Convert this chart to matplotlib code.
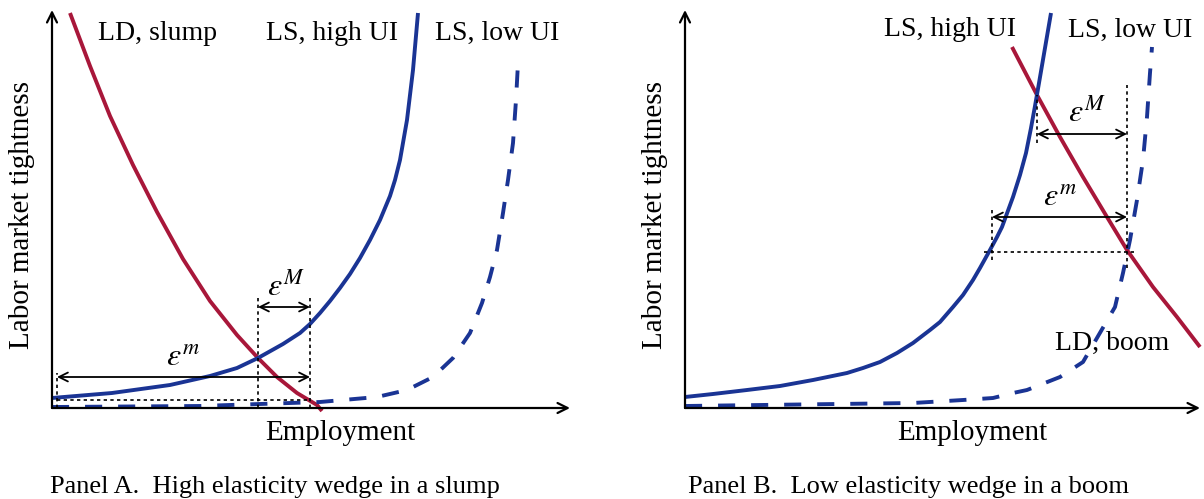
import matplotlib
matplotlib.use("Agg")
import matplotlib.pyplot as plt

plt.rcParams['font.family'] = ['Liberation Serif', 'DejaVu Serif']
plt.rcParams['mathtext.fontset'] = 'stix'

# couleurs
ROUGE = "#a8173a"
BLEU = "#1a3494"

# ---- Panel A : slump (unites arbitraires, origine = coin des axes) ----
a_ld_x = [18, 38, 58, 81, 105, 131, 158, 185, 206, 225, 245, 265, 270]
a_ld_y = [395, 342, 292, 243, 196, 149, 107, 73, 50, 31, 15, 3, -3]

a_hi_x = [0, 60, 118, 158, 185, 206, 231, 248, 258, 268, 278, 288, 298, 308,
          318, 328, 338, 343, 348, 355, 361, 366]
a_hi_y = [10, 15, 23, 32, 40, 50, 64, 75, 84, 95, 107, 120, 134, 150,
          168, 188, 212, 228, 248, 288, 338, 395]

a_lo_x = [0, 148, 268, 291, 325, 355, 381, 401, 418, 430, 438, 445, 451, 456, 461, 464, 466]
a_lo_y = [1, 2, 6, 8, 11, 18, 31, 50, 75, 105, 131, 158, 195, 228, 265, 308, 345]

# ---- Panel B : boom ----
b_ld_x = [327, 352, 375, 398, 422, 442, 468, 492, 515]
b_ld_y = [361, 313, 271, 231, 191, 158, 121, 91, 61]

b_hi_x = [0, 28, 62, 95, 128, 162, 178, 195, 212, 228, 245, 255, 268, 278,
          288, 295, 305, 312, 317, 328, 335, 341, 346, 350, 354, 360, 366]
b_hi_y = [11, 14, 18, 22, 28, 35, 40, 46, 55, 65, 78, 86, 101, 113,
          128, 140, 158, 171, 181, 211, 233, 255, 280, 302, 325, 360, 395]

b_lo_x = [0, 228, 278, 308, 328, 342, 375, 398, 430, 438, 445, 452, 458, 462, 465, 467]
b_lo_y = [2, 5, 8, 10, 15, 18, 31, 46, 101, 135, 168, 208, 248, 291, 335, 361]

W, H = 1204, 499
fig = plt.figure(figsize=(W / 100, H / 100), dpi=100)

def make_axes(left_px, xlen):
    ax = fig.add_axes([left_px / W, (H - 408) / H, xlen / W, 398 / H])
    ax.set_xlim(0, xlen)
    ax.set_ylim(0, 398)
    ax.axis('off')
    # axes avec fleches
    ax.annotate('', xy=(xlen, 0), xytext=(0, 0),
                arrowprops=dict(arrowstyle='->', lw=1.6, color='black', mutation_scale=18,
                                shrinkA=0, shrinkB=0),
                annotation_clip=False)
    ax.annotate('', xy=(0, 398), xytext=(0, 0),
                arrowprops=dict(arrowstyle='->', lw=1.6, color='black', mutation_scale=18,
                                shrinkA=0, shrinkB=0),
                annotation_clip=False)
    return ax

def dbl_arrow(ax, x0, x1, y):
    ax.annotate('', xy=(x1, y), xytext=(x0, y),
                arrowprops=dict(arrowstyle='<->', lw=1.3, color='black',
                                mutation_scale=16, shrinkA=0, shrinkB=0))

def dotted(ax, xs, ys):
    ax.plot(xs, ys, color='black', lw=1.2, linestyle=(0, (2, 2)), clip_on=False)

lw = 2.8
dash = (0, (4.4, 4.1))
fs = 20
fs_eps = 23

# ===== Panel A =====
ax1 = make_axes(52, 518)
ax1.plot(a_ld_x, a_ld_y, color=ROUGE, lw=lw, clip_on=False, solid_capstyle='butt')
ax1.plot(a_hi_x, a_hi_y, color=BLEU, lw=lw, clip_on=False, solid_capstyle='butt')
ax1.plot(a_lo_x, a_lo_y, color=BLEU, lw=lw, linestyle=dash, clip_on=False)

dotted(ax1, [206, 206], [0, 110])
dotted(ax1, [258, 258], [0, 110])
dotted(ax1, [5, 5], [0, 35])
dotted(ax1, [5, 258], [8, 8])
dbl_arrow(ax1, 206, 258, 101)
dbl_arrow(ax1, 5, 258, 31)
ax1.text(234, 121, r'$\varepsilon^M$', fontsize=fs_eps, ha='center', va='center')
ax1.text(131, 50, r'$\varepsilon^m$', fontsize=fs_eps, ha='center', va='center')

ax1.text(106, 375, 'LD, slump', fontsize=fs, ha='center', va='center')
ax1.text(280, 375, 'LS, high UI', fontsize=fs, ha='center', va='center')
ax1.text(445, 375, 'LS, low UI', fontsize=fs, ha='center', va='center')
ax1.text(-30, 193, 'Labor market tightness', fontsize=21, rotation=90,
         ha='center', va='center')
ax1.text(288, -25, 'Employment', fontsize=21, ha='center', va='center')
ax1.text(-2, -79, 'Panel A.  High elasticity wedge in a slump', fontsize=19,
         ha='left', va='center')

# ===== Panel B =====
ax2 = make_axes(685, 515)
ax2.plot(b_ld_x, b_ld_y, color=ROUGE, lw=lw, clip_on=False, solid_capstyle='butt')
ax2.plot(b_hi_x, b_hi_y, color=BLEU, lw=lw, clip_on=False, solid_capstyle='butt')
ax2.plot(b_lo_x, b_lo_y, color=BLEU, lw=lw, linestyle=dash, clip_on=False)

dotted(ax2, [352, 352], [265, 313])
dotted(ax2, [442, 442], [140, 323])
dotted(ax2, [307, 307], [148, 201])
dotted(ax2, [299, 450], [156, 156])
dbl_arrow(ax2, 352, 442, 274)
dbl_arrow(ax2, 307, 442, 191)
ax2.text(402, 295, r'$\varepsilon^M$', fontsize=fs_eps, ha='center', va='center')
ax2.text(375, 210, r'$\varepsilon^m$', fontsize=fs_eps, ha='center', va='center')

ax2.text(265, 378, 'LS, high UI', fontsize=fs, ha='center', va='center')
ax2.text(445, 378, 'LS, low UI', fontsize=fs, ha='center', va='center')
ax2.text(427, 65, 'LD, boom', fontsize=fs, ha='center', va='center')
ax2.text(-30, 193, 'Labor market tightness', fontsize=21, rotation=90,
         ha='center', va='center')
ax2.text(287, -25, 'Employment', fontsize=21, ha='center', va='center')
ax2.text(3, -79, 'Panel B.  Low elasticity wedge in a boom', fontsize=19,
         ha='left', va='center')

fig.savefig('out.png', dpi=100)
